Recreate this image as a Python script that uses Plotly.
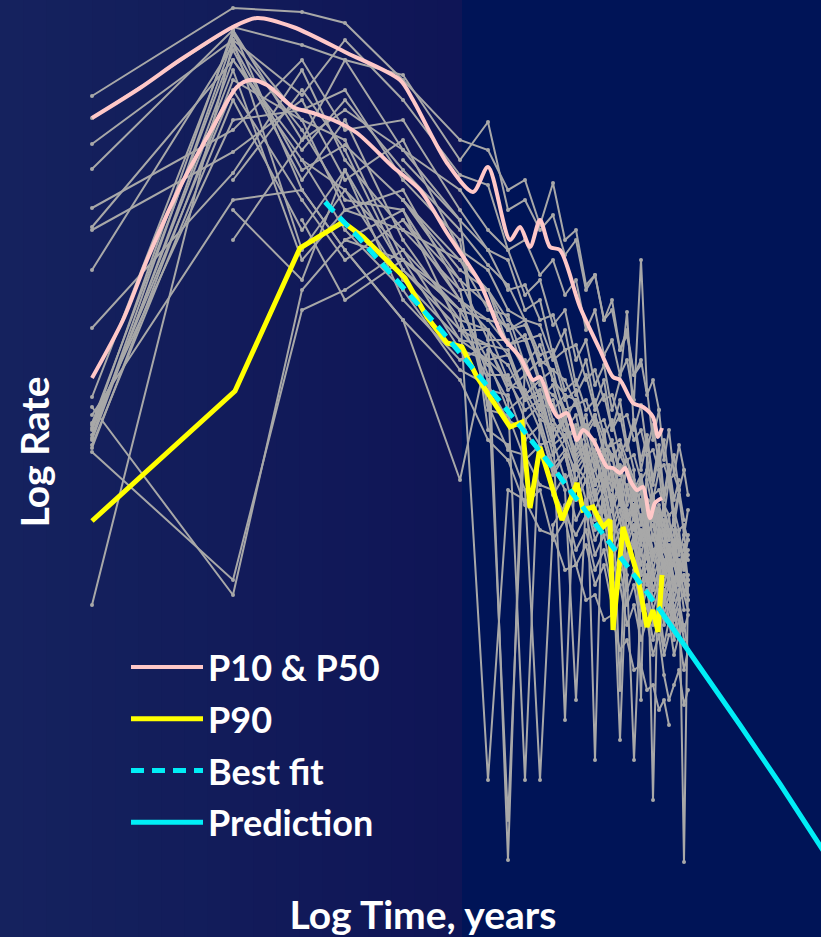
import plotly.graph_objects as go

# ---------------- data (log time / log rate, arbitrary log units) ----------------
X_GRID = [0.92, 2.33, 3.02, 3.45, 4.03, 4.60, 4.88, 5.08, 5.25, 5.40, 5.53, 5.65, 5.76, 5.86, 5.95,
          6.04, 6.12, 6.20, 6.27, 6.34, 6.41, 6.47, 6.53, 6.59, 6.64, 6.69, 6.74, 6.79, 6.84, 6.88]

N = None
W01 = [-0.96, -0.08, -0.12, -0.23, -0.80, -1.40, -1.50, -1.90, -1.80, -2.25, -1.83, -2.40, -2.30, -2.85, -2.75, -3.20, -3.10, -3.50, -3.35, -3.75, -3.65, N, N, N, N, N, N, N, N, N]
W02 = [-1.18, -0.27, -0.45, -0.60, -0.75, -1.60, -1.22, -2.10, -2.00, -2.30, -2.15, -2.55, -2.40, -2.90, -2.75, -3.20, -3.00, -3.50, -3.30, -3.75, -3.60, -3.95, -3.80, -4.10, N, N, N, N, N, N]
W03 = [-1.44, -0.40, -0.95, -0.40, -1.00, -1.75, -1.85, -2.50, -2.40, -2.75, -2.60, -2.95, -2.80, -3.30, -3.10, -3.55, -3.40, -3.75, -3.60, -4.00, -2.60, -3.90, -4.40, -4.10, -4.60, -4.30, -4.75, -4.45, -4.70, N]
W04 = [-1.69, -0.30, -1.40, -1.10, -1.50, -1.90, -2.30, -2.50, -2.95, -2.80, -3.25, -3.10, -3.60, -3.40, -3.85, -3.65, -4.10, -3.80, -3.12, -4.30, -4.05, -4.50, -4.25, -4.65, -4.40, -4.80, -4.55, -4.90, -4.70, -4.95]
W05 = [-2.08, -1.30, -0.60, -1.30, -1.20, -2.10, -2.50, -2.60, -3.10, -3.00, -3.55, -3.30, -3.85, -3.60, -4.05, -3.80, -4.30, -4.00, -4.45, -4.20, -4.60, -4.35, -4.80, -4.45, -4.95, -4.65, -5.00, -4.80, N, N]
W06 = [-2.27, -0.60, -1.50, -1.00, -1.70, -2.30, -2.65, -2.85, -3.20, -3.25, -3.60, -3.50, -3.95, -3.75, -4.10, -3.95, -4.30, -4.15, -4.50, -4.20, -4.70, -4.40, -4.85, -4.55, -5.00, -4.70, -5.15, -4.90, -5.20, N]
W07 = [-2.30, -1.52, -1.00, -1.80, -1.40, -2.50, -2.70, -3.10, -3.20, -3.55, -3.50, -3.90, -3.80, -4.10, -4.00, -4.35, -4.20, -4.55, -4.40, -4.70, -7.00, -4.55, -5.00, -4.70, -5.15, -4.80, -5.25, -4.95, -5.35, -5.10]
W08 = [-2.70, -0.45, -1.70, -1.45, -2.00, -2.70, -2.90, -3.20, -3.40, -3.35, -3.80, -3.95, -4.00, -4.30, -4.15, -4.40, -4.60, -4.45, -4.70, -4.95, -4.80, -5.00, -5.20, -5.05, -5.25, -5.40, -5.20, -5.45, -5.60, -5.40]
W09 = [-3.28, -1.73, -0.70, -1.60, -2.30, -2.60, -3.10, -3.15, -3.65, -3.45, -3.80, -4.10, -4.05, -4.35, -4.20, -4.50, -4.45, -4.75, -4.60, -4.80, -5.05, -4.80, -5.10, -5.25, -5.05, -5.35, -5.20, -5.45, -5.60, -5.35]
W10 = [-3.97, -0.35, -1.20, -2.10, -1.90, -2.90, -2.90, -3.45, -3.35, -3.80, -3.70, -4.20, -4.00, -4.45, -7.60, -4.30, -4.80, -4.55, -4.70, -5.00, -4.80, -5.15, -4.95, -5.30, -5.10, -5.40, -5.20, -5.55, -5.35, -5.60]
W11 = [-4.07, -5.95, -2.90, -2.40, -2.60, -3.00, -3.20, -3.25, -3.75, -3.60, -4.10, -3.95, -4.40, -4.15, -4.65, -4.40, -4.55, -4.90, -4.70, -5.00, -4.85, -5.20, -5.00, -5.25, -5.45, -5.15, -5.60, -5.30, -5.70, -5.50]
W12 = [-4.23, -0.50, -1.80, -1.20, -2.40, -3.20, -3.30, -8.60, -3.60, -4.00, -3.85, -4.30, -4.15, -4.60, -4.40, -4.75, -4.55, -5.00, -4.70, -5.15, -4.90, -5.30, -5.00, -5.45, -5.20, -5.55, -5.30, -5.70, -5.45, -5.80]
W13 = [-4.30, -0.90, -2.00, -2.60, -2.20, -2.80, -3.40, -3.40, -3.70, -3.95, -4.05, -4.30, -4.50, -4.35, -4.70, -4.50, -4.90, -4.70, -5.05, -4.85, -5.25, -5.00, -5.40, -5.15, -5.35, -5.60, -5.40, -5.75, -5.55, -5.85]
W14 = [-4.38, -0.40, -2.50, -1.90, -2.80, -3.40, -3.45, -3.50, -3.95, -3.80, -4.30, -7.20, -4.40, -4.70, -4.55, -4.90, -4.70, -5.05, -4.85, -5.20, -5.00, -5.40, -5.15, -5.55, -5.30, -5.70, -5.45, -5.80, -5.60, N]
W15 = [-4.52, -5.80, -3.10, -2.90, -2.50, -3.10, -3.60, -3.55, -4.00, -3.90, -4.40, -4.15, -4.60, -4.45, -4.85, -4.60, -5.05, -4.80, -5.20, -4.95, -5.40, -5.10, -8.00, -5.30, -5.70, -5.45, -5.85, -5.60, -5.95, -5.75]
W16 = [-4.45, -1.00, -2.30, -1.70, -3.00, -3.60, -3.45, -3.85, -3.90, -4.20, -4.25, -4.50, -4.70, -4.55, -4.95, -4.70, -5.10, -4.90, -5.30, -5.05, -5.45, -5.20, -5.60, -5.40, -5.75, -5.50, -5.90, -5.70, -8.62, -5.85]
W17 = [-6.05, -0.43, -1.30, -2.00, -2.10, -3.00, -3.75, -3.75, -4.20, -4.05, -4.55, -4.40, -4.80, -4.60, -5.00, -4.80, -5.25, -5.00, -5.40, -5.15, -5.55, -5.30, -5.70, -5.45, -5.85, -5.60, -6.00, -5.75, -6.10, N]
W18 = [N, -1.80, -0.90, -1.50, -2.70, -3.30, -3.65, -4.00, -7.80, -4.20, -4.65, -4.50, -4.90, -4.70, -5.10, -4.90, -5.30, -5.10, -5.45, -5.25, -5.65, -5.45, -5.80, -5.60, -5.95, -5.75, -6.10, -5.90, N, N]
W19 = [N, N, -2.20, -3.00, -2.60, -3.50, -3.90, -3.95, -4.40, -4.25, -4.75, -4.55, -5.00, -4.80, -5.20, -5.00, -5.40, -7.40, -5.55, -5.35, -5.75, -5.55, -5.90, -5.70, -6.05, -5.85, -6.20, -6.00, -6.30, -6.15]
W20 = [-4.40, -0.60, -1.60, -2.30, -2.90, -3.70, -3.85, -4.20, -4.30, -4.55, -4.65, -4.90, -7.00, -5.00, -5.30, -5.10, -5.50, -5.30, -5.65, -5.45, -5.85, -5.65, -6.00, -5.80, -6.15, -5.95, -6.30, -6.10, -6.40, N]
W21 = [-4.25, -1.20, -1.10, -0.90, -1.80, -2.40, -4.10, -4.15, -4.60, -4.45, -4.95, -4.75, -5.20, -5.00, -5.40, -5.20, -5.60, -5.40, -5.75, -7.60, -5.95, -5.75, -6.10, -5.90, -6.25, -6.05, -6.40, -6.20, N, N]
W22 = [-4.35, -0.70, -2.60, -2.10, -2.30, -2.90, -4.05, -4.50, -4.55, -4.85, -4.90, -5.15, -5.35, -5.15, -5.55, -5.35, -5.75, -5.55, -5.90, -5.70, -6.10, -5.90, -6.25, -6.05, -6.45, -6.20, -6.55, -6.35, -6.70, -6.50]
W23 = [N, -2.40, -1.40, -0.60, -1.50, -2.20, -4.30, -4.45, -4.90, -7.80, -5.25, -5.05, -5.50, -5.30, -5.70, -5.50, -5.90, -5.70, -6.05, -5.85, -6.25, -6.05, -6.40, -6.20, -6.55, -6.35, N, N, N, N]
W24 = [-4.28, -0.30, -1.90, -2.50, -3.20, -3.80, -4.40, -4.60, -5.05, -4.90, -5.40, -5.20, -5.65, -5.45, -5.85, -5.65, -6.05, -5.85, -6.25, -6.05, -6.40, -6.20, -6.55, -6.35, -6.75, -7.00, -6.85, -6.70, -7.05, -6.90]
W25 = [-4.48, -0.80, -1.20, -1.40, -2.60, -3.10, -7.80, -4.90, -5.00, -5.30, -5.35, -5.70, -5.65, -6.00, -5.95, -6.20, -6.15, -6.50, -6.40, -6.70, -6.65, -6.90, -6.85, -7.10, -7.00, -7.25, N, N, N, N]
W26 = [-4.15, -2.00, -1.90, -2.50, -3.20, -4.80, -3.50, -3.65, -4.00, -3.95, -4.40, -4.20, -4.65, -4.50, -4.85, -4.70, -5.05, -4.85, -5.20, -5.05, -5.40, -5.20, -5.55, -5.35, -5.70, -5.50, -5.80, -5.65, -5.95, -5.80]
W27 = [N, N, N, N, -2.00, -2.60, -2.90, -3.30, -3.20, -3.65, -3.55, -4.00, -3.90, -4.30, -4.15, -4.55, -4.40, -4.70, -4.60, -4.90, -4.75, -5.05, -4.95, -5.20, -5.10, -5.30, N, N, N, N]
W28 = [N, N, N, -2.40, -2.10, -3.30, -3.30, -3.80, -3.65, -4.10, -4.00, -4.40, -4.25, -4.60, -4.50, -4.85, -4.70, -6.90, -4.90, -5.15, -5.05, -5.35, -5.25, -5.55, -5.45, -5.70, -5.60, -5.85, -5.75, -6.00]
W29 = [N, N, -1.60, -1.90, -2.50, -3.40, -3.60, -4.10, -3.95, -4.30, -4.70, -4.55, -5.00, -4.80, -5.20, -5.05, -5.40, -5.20, -5.60, -5.40, -5.75, -5.55, -5.90, -5.70, -6.00, -5.85, N, N, N, N]
W30 = [N, -2.10, -2.80, -1.70, -2.70, -3.20, -3.80, -8.20, -4.20, -4.45, -4.40, -4.80, -4.65, -5.00, -4.90, -5.25, -5.10, -5.45, -5.30, -5.65, -5.50, -5.85, -5.70, -6.00, -5.90, -6.20, -6.10, -6.35, -6.25, -6.50]
W31 = [N, N, N, N, -2.20, -3.00, -3.30, -3.55, -3.95, -3.80, -4.20, -4.40, -4.30, -4.70, -4.55, -4.90, -4.80, -5.00, -5.20, -5.05, -5.35, -5.25, -5.50, -5.45, -5.60, -5.75, -5.60, -5.85, -5.80, -5.95]
W32 = [N, N, N, N, N, -3.30, -3.45, -3.90, -3.75, -4.15, -4.30, -4.20, -4.55, -4.45, -4.80, -4.75, -5.00, -4.90, -5.15, -5.30, -5.15, -5.45, -5.35, -5.60, -5.50, -5.70, -5.65, -5.85, -5.75, -6.00]
W33 = [N, N, N, N, -2.60, -3.10, -3.20, -3.45, -3.40, -3.85, -3.95, -4.10, -4.30, -4.25, -4.55, -4.50, -4.70, -4.65, -4.90, -4.85, -5.05, -5.00, -5.20, -5.10, -5.35, -5.30, -5.45, -5.40, -5.60, -5.55]
W34 = [N, N, N, N, N, -3.50, -3.60, -3.80, -4.10, -4.00, -4.45, -4.35, -4.65, -4.80, -4.70, -5.00, -4.95, -5.20, -5.10, -5.40, -5.30, -5.55, -5.50, -5.70, -5.65, -5.85, -5.80, -6.00, -5.95, -6.10]
W35 = [N, N, N, N, -1.60, -2.20, -2.50, -2.90, -2.85, -3.20, -3.15, -3.50, -3.45, -3.80, -3.70, -4.00, -3.95, -4.20, -4.15, -4.40, -4.30, -4.55, -4.50, -4.70, -4.65, -4.80, -4.75, -4.90, N, N]
W36 = [N, N, N, N, -2.00, -2.80, -3.05, -3.30, -3.25, -3.60, -3.70, -3.80, -4.05, -4.00, -4.25, -4.20, -4.45, -4.40, -4.60, -4.55, -4.80, -4.70, -4.95, -4.90, -5.05, -5.15, -5.10, -5.30, -5.25, -5.40]
WELLS = [W01, W02, W03, W04, W05, W06, W07, W08, W09, W10, W11, W12, W13, W14, W15, W16, W17, W18,
         W19, W20, W21, W22, W23, W24, W25, W26, W27, W28, W29, W30, W31, W32, W33, W34, W35, W36]

P10_X = [0.92, 1.40, 1.80, 2.33, 2.57, 2.93, 3.47, 4.00, 4.13, 4.47, 4.73, 4.88, 5.10, 5.20, 5.30,
         5.40, 5.50, 5.60, 5.80, 6.00, 6.13, 6.20, 6.33, 6.43, 6.53, 6.58, 6.62]
P10_Y = [-1.18, -0.88, -0.60, -0.27, -0.18, -0.27, -0.53, -0.80, -1.00, -1.63, -1.92, -1.67, -2.40, -2.27, -2.47,
         -2.20, -2.47, -2.50, -3.07, -3.50, -3.77, -3.80, -4.03, -4.07, -4.17, -4.37, -4.28]

P50_X = [0.92, 1.23, 1.47, 1.80, 2.13, 2.37, 2.50, 2.67, 2.93, 3.13, 3.33, 3.57, 3.93, 4.20, 4.47, 4.80,
         5.03, 5.20, 5.33, 5.40, 5.50, 5.58, 5.67, 5.77, 5.83, 5.93, 6.07, 6.13, 6.20, 6.25, 6.30, 6.37,
         6.43, 6.50, 6.55, 6.62]
P50_Y = [-3.78, -3.20, -2.60, -1.87, -1.27, -0.87, -0.80, -0.85, -1.07, -1.13, -1.20, -1.33, -1.67, -1.90, -2.33, -2.83,
         -3.37, -3.57, -3.80, -3.77, -4.03, -4.17, -4.13, -4.40, -4.30, -4.40, -4.67, -4.68, -4.73, -4.68, -4.80, -4.90,
         -4.87, -5.18, -5.03, -4.98]

P90_X = [0.92, 2.35, 3.00, 3.43, 3.63, 4.05, 4.27, 4.47, 4.62, 4.77, 5.10, 5.22, 5.30, 5.40, 5.62, 5.77,
         5.83, 5.93, 6.03, 6.10, 6.13, 6.23, 6.37, 6.47, 6.53, 6.58, 6.62]
P90_Y = [-5.21, -3.91, -2.48, -2.22, -2.37, -2.78, -3.17, -3.43, -3.47, -3.77, -4.27, -4.22, -5.08, -4.47, -5.20, -4.83,
         -5.10, -5.07, -5.27, -5.20, -6.30, -5.27, -5.73, -6.27, -6.10, -6.32, -5.75]

FIT_X = [3.25, 3.60, 4.00, 4.40, 4.80, 5.20, 5.60, 6.00, 6.40, 6.60]
FIT_Y = [-2.02, -2.39, -2.84, -3.29, -3.77, -4.26, -4.77, -5.29, -5.83, -6.10]

PRED_X = [6.60, 7.00, 7.40, 7.80, 8.21, 8.30]
PRED_Y = [-6.10, -6.67, -7.25, -7.84, -8.47, -8.61]

# ---------------- styling ----------------
GRAY = "#a8a8a8"
PINK = "#ffc8c8"
YELLOW = "#ffff00"
CYAN = "#00eef6"
FONT = "Lato"

fig = go.Figure()

for w in WELLS:
    fig.add_trace(go.Scatter(
        x=X_GRID, y=w, mode="lines+markers",
        line=dict(color=GRAY, width=2), marker=dict(color=GRAY, size=4),
        showlegend=False, hoverinfo="skip"))

fig.add_trace(go.Scatter(x=P10_X, y=P10_Y, mode="lines", name="P10 & P50", legendrank=1,
                         line=dict(color=PINK, width=4, shape="spline", smoothing=0.8),
                         legendgroup="g1"))
fig.add_trace(go.Scatter(x=P50_X, y=P50_Y, mode="lines", name="P50", showlegend=False,
                         line=dict(color=PINK, width=4, shape="spline", smoothing=0.8),
                         legendgroup="g1"))
fig.add_trace(go.Scatter(x=P90_X, y=P90_Y, mode="lines", name="P90", legendrank=2,
                         line=dict(color=YELLOW, width=5), legendgroup="g2"))
fig.add_trace(go.Scatter(x=PRED_X, y=PRED_Y, mode="lines", name="Prediction", legendrank=4,
                         line=dict(color=CYAN, width=5), legendgroup="g4"))
fig.add_trace(go.Scatter(x=FIT_X, y=FIT_Y, mode="lines", name="Best fit", legendrank=3,
                         line=dict(color=CYAN, width=5, dash="13px,8px"), legendgroup="g3"))

# background gradient bands (left part lighter, right part darker)
W, H = 821, 937
L = 25
pw = W - L
YB = 904  # bottom of the y domain, px from top
shapes = []
nb = 20
c0 = (21, 34, 94)
c1 = (15, 21, 86)
edge = 461
for i in range(nb):
    xa = edge * i / nb
    xb = edge * (i + 1) / nb + 1
    t = i / (nb - 1)
    col = tuple(round(c0[k] + (c1[k] - c0[k]) * t) for k in range(3))
    shapes.append(dict(type="rect", xref="paper", yref="paper",
                       x0=(xa - L) / pw, x1=(xb - L) / pw, y0=-0.05, y1=1.01,
                       fillcolor="rgb(%d,%d,%d)" % col, line=dict(width=0), layer="below"))

title_font = dict(family=FONT, size=39, color="white", weight="bold")
fig.update_layout(
    width=W, height=H,
    margin=dict(l=L, r=0, t=0, b=0),
    paper_bgcolor="#001457", plot_bgcolor="rgba(0,0,0,0)",
    shapes=shapes,
    font=dict(family=FONT, color="white"),
    xaxis=dict(range=[L / 100, W / 100], showgrid=False, zeroline=False, showticklabels=False,
               showline=False, ticks="", anchor="free", position=1 - 895 / H,
               title=dict(text="Log Time, years", standoff=9, font=title_font)),
    yaxis=dict(range=[-YB / 100, 0], domain=[1 - YB / H, 1], showgrid=False, zeroline=False,
               showticklabels=False, showline=False, ticks="", anchor="free", position=(75 - L) / pw,
               title=dict(text="Log Rate", standoff=12, font=title_font)),
    legend=dict(x=(126 - L) / pw, y=1 - 637 / H, xanchor="left", yanchor="top",
                bgcolor="rgba(0,0,0,0)", traceorder="grouped", tracegroupgap=2, itemwidth=72,
                font=dict(family=FONT, size=36, color="white", weight="bold")),
)

fig.write_html("out.html", config={"displayModeBar": False},
               post_script="document.body.style.margin='0';document.body.style.overflow='hidden';")
